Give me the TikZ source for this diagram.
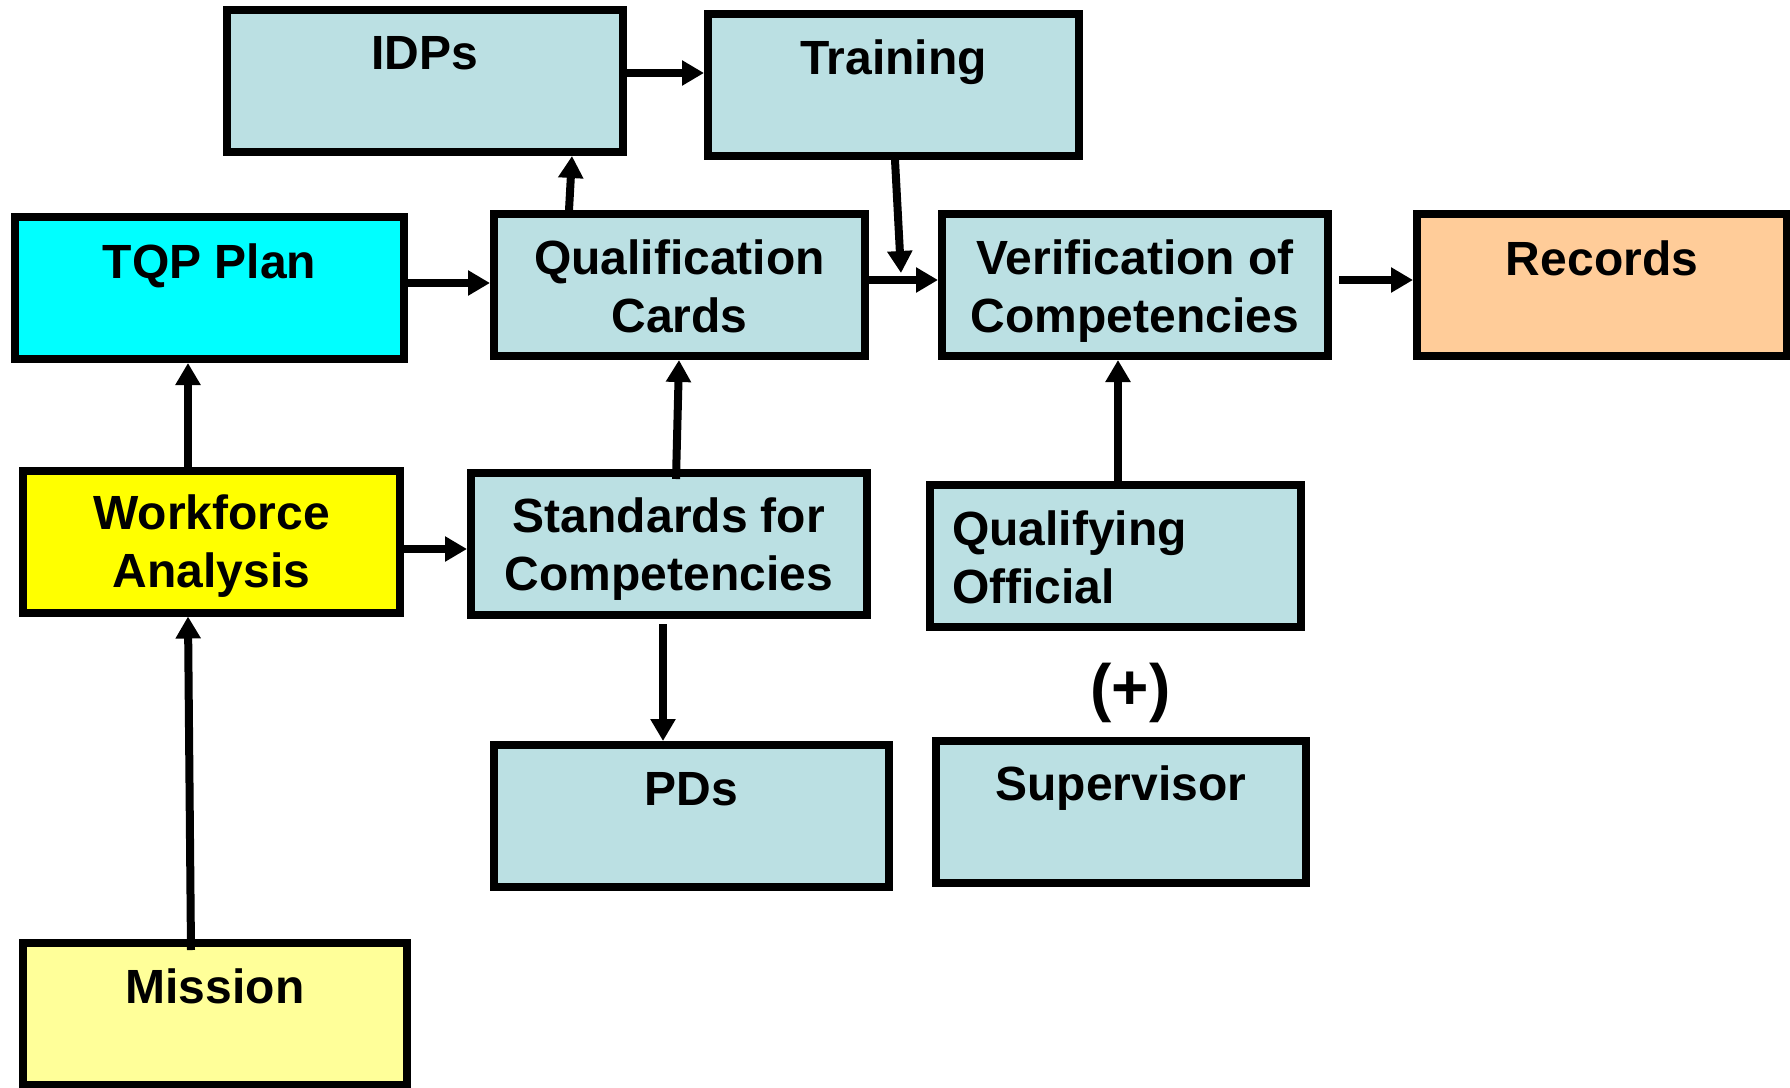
\documentclass[tikz,border=0pt]{standalone}
\usepackage{fontspec}
\setmainfont{Liberation Sans}
\usetikzlibrary{arrows.meta,calc}
\definecolor{lb}{HTML}{BBE0E3}
\definecolor{cy}{HTML}{00FFFF}
\definecolor{ye}{HTML}{FFFF00}
\definecolor{pye}{HTML}{FFFF99}
\definecolor{pe}{HTML}{FFCC99}
\tikzset{
  box/.style={draw=black, line width=8pt, rectangle, inner sep=0pt, minimum height=142pt},
  lbl/.style={font=\bfseries\fontsize{48}{58}\selectfont, inner sep=0pt, align=center, anchor=north},
  arr/.style={line width=8pt, -{Triangle[length=22pt,width=24pt]}},
}
\begin{document}
\begin{tikzpicture}[x=1pt,y=-1pt]
\useasboundingbox (0,0) rectangle (1790,1087);
% boxes
\node[box, fill=lb, minimum width=396pt] (idps) at (425,81) {};
\node[box, fill=lb, minimum width=371pt] (training) at (893.5,85) {};
\node[box, fill=cy, minimum width=389pt] (tqp) at (209.5,288) {};
\node[box, fill=lb, minimum width=371pt] (qc) at (679.5,285) {};
\node[box, fill=lb, minimum width=386pt] (verif) at (1135,285) {};
\node[box, fill=pe, minimum width=370pt] (records) at (1602,285) {};
\node[box, fill=ye, minimum width=377pt] (wf) at (211.5,541.5) {};
\node[box, fill=lb, minimum width=396pt] (std) at (669,544) {};
\node[box, fill=lb, minimum width=371pt] (qo) at (1115.5,556) {};
\node[box, fill=lb, minimum width=395pt] (pds) at (691.5,816) {};
\node[box, fill=lb, minimum width=370pt] (sup) at (1121,812) {};
\node[box, fill=pye, minimum width=384pt] (mission) at (215,1014) {};
% labels
\node[lbl] (idps-t) at ([yshift=-30pt]idps.north) {IDPs};
\node[lbl] (training-t) at ([yshift=-29.5pt]training.north) {Training};
\node[lbl] (tqp-t) at ([yshift=-30.5pt]tqp.north) {TQP Plan};
\node[lbl] (qc-t) at ([yshift=-30pt]qc.north) {Qualification\\Cards};
\node[lbl] (verif-t) at ([yshift=-30pt]verif.north) {Verification of\\Competencies};
\node[lbl] (records-t) at ([yshift=-31pt]records.north) {Records};
\node[lbl] (wf-t) at ([yshift=-28.5pt]wf.north) {Workforce\\Analysis};
\node[lbl] (std-t) at ([yshift=-29pt]std.north) {Standards for\\Competencies};
\node[lbl, align=left, anchor=north west] (qo-t) at ([xshift=26pt,yshift=-29.5pt]qo.north west) {Qualifying\\Official};
\node[lbl] (pds-t) at ([yshift=-31.5pt]pds.north) {PDs};
\node[lbl] (sup-t) at ([yshift=-29pt]sup.north) {Supervisor};
\node[lbl] (mission-t) at ([yshift=-29.5pt]mission.north) {Mission};
\node[lbl, anchor=base, font=\bfseries\fontsize{64}{70}\selectfont] (plus) at (1130.5,709.5) {(+)};
% connector end points
\coordinate (a1) at ([yshift=8pt]idps.east);
\coordinate (a4) at ([yshift=2pt]qc.west);
\coordinate (a5) at ([yshift=5pt]qc.east);
\coordinate (a6) at ([xshift=7pt,yshift=5pt]verif.east);
\coordinate (a7) at ([xshift=-23.5pt]wf.north);
\coordinate (a8) at ([yshift=-7.5pt]wf.east);
\coordinate (a11) at ([xshift=-6pt,yshift=-5pt]std.south);
\coordinate (a12) at ([xshift=2.5pt,yshift=-8pt]qo.north);
\coordinate (tv) at ([xshift=-37pt,yshift=-63pt]verif.north west);
% connectors
\draw[arr] (a1) -- (a1 -| training.west);
\draw[arr] ([xshift=-110.5pt]qc.north) -- ([xshift=147pt]idps.south);
\draw[arr] ([xshift=1.5pt]training.south) -- (tv);
\draw[arr] (a4 -| tqp.east) -- (a4);
\draw[arr] (a5) -- (a5 -| verif.west);
\draw[arr] (a6) -- (a6 -| records.west);
\draw[arr] (a7) -- (a7 |- tqp.south);
\draw[arr] (a8) -- (a8 -| std.west);
\draw[arr] ([xshift=7pt,yshift=-10pt]std.north) -- ([xshift=-0.5pt]qc.south);
\draw[arr] ([xshift=-24pt,yshift=-11pt]mission.north) -- ([xshift=-23.5pt]wf.south);
\draw[arr] (a11) -- (a11 |- pds.north);
\draw[arr] (a12) -- (a12 |- verif.south);
\end{tikzpicture}
\end{document}
